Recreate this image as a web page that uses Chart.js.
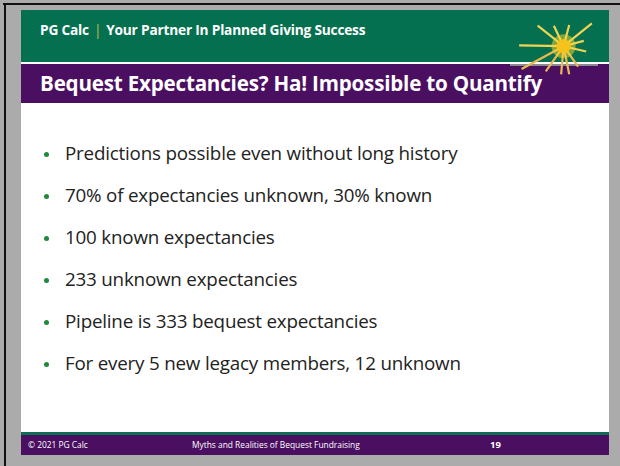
<!DOCTYPE html>
<html>
<head>
<meta charset="utf-8">
<script src="https://cdn.jsdelivr.net/npm/chart.js@4"></script>
<style>
  html, body { margin: 0; padding: 0; }
  body { width: 620px; height: 466px; background: #ababab; position: relative; overflow: hidden; font-family: "Open Sans", "Noto Sans", sans-serif; }
  .frameTop { position: absolute; left: 3px; top: 3px; width: 617px; height: 2px; background: #111; }
  .frameLeft { position: absolute; left: 4px; top: 3px; width: 2px; height: 463px; background: #111; }
  .slide { position: absolute; left: 21px; top: 10px; width: 588px; height: 445px; background: #fff; }
  .header { position: absolute; left: 0; top: 0; width: 588px; height: 52px; background: #05704f; }
  .tagline { position: absolute; left: 19px; top: 10px; color: #fff; font-weight: bold; font-size: 13.7px; letter-spacing: -0.2px; }
  .tagline .sep { color: #c8b94a; font-weight: normal; margin: 0 5px; }
  .titleBar { position: absolute; left: 0; top: 54px; width: 588px; height: 39px; background: #4b0f62; }
  .greyRule { position: absolute; left: 489px; top: 0; width: 88px; height: 2px; background: #8a8a90; }
  .title { position: absolute; left: 19px; top: 5px; color: #fff; font-weight: bold; font-size: 20.6px; letter-spacing: -0.2px; }
  .footLine { position: absolute; left: 0; top: 422px; width: 588px; height: 3px; background: #0b6e55; }
  .footer { position: absolute; left: 0; top: 425px; width: 588px; height: 20px; background: #4b0f62; color: #fff; font-size: 8.4px; }
  .footer span { position: absolute; top: 4px; }
  ul { position: absolute; left: 0; top: 130px; margin: 0; padding: 0; list-style: none; }
  li { position: absolute; left: 44px; white-space: nowrap; font-size: 18.8px; color: #222; letter-spacing: -0.2px; }
  li::before { content: ""; position: absolute; left: -21px; top: 12px; width: 5px; height: 5px; border-radius: 50%; background: #1f8a3c; }
  #starWrap { position: absolute; left: 495px; top: 0; width: 125px; height: 100px; z-index: 10; }
  #star { display: block; width: 125px; height: 100px; }
</style>
</head>
<body>
<div class="frameTop"></div>
<div class="frameLeft"></div>
<div class="slide">
  <div class="header"><div class="tagline">PG Calc<span class="sep">|</span>Your Partner In Planned Giving Success</div></div>
  <div class="titleBar"><div class="greyRule"></div><div class="title">Bequest Expectancies? Ha! Impossible to Quantify</div></div>
  <ul id="bullets"></ul>
  <div class="footLine"></div>
  <div class="footer">
    <span style="left:7px">© 2021 PG Calc</span>
    <span style="left:171px">Myths and Realities of Bequest Fundraising</span>
    <span style="left:469px;font-weight:bold;font-size:9.5px;top:3px">19</span>
  </div>
</div>
<div id="starWrap"><canvas id="star"></canvas></div>
<script>
// Slide bullet text
const bullets = [
  'Predictions possible even without long history',
  '70% of expectancies unknown, 30% known',
  '100 known expectancies',
  '233 unknown expectancies',
  'Pipeline is 333 bequest expectancies',
  'For every 5 new legacy members, 12 unknown'
];

// Starburst rays: end points in the star box, y measured upward (centre at 70,55)
const starCenter = [70, 55];
const rayX = [15, 38, 58, 77, 105, 95, 98, 88, 77, 67, 48, 18];
const rayY = [56, 82, 82, 83, 85, 62, 48, 28, 18, 18, 22, 25];

const list = document.getElementById('bullets');
bullets.forEach((text, i) => {
  const li = document.createElement('li');
  li.textContent = text;
  li.style.top = (i * 42) + 'px';
  list.appendChild(li);
});

// one line per ray, from the centre out to its end point
const rayDatasets = rayX.map((x, i) => ({
  data: [{ x: starCenter[0], y: starCenter[1] }, { x: x, y: rayY[i] }],
  showLine: true,
  clip: false,
  borderColor: rayY[i] < 35 ? '#eab84e' : '#f0d452',
  borderWidth: 2.2,
  pointRadius: 0
}));

new Chart(document.getElementById('star').getContext('2d'), {
  type: 'scatter',
  data: {
    datasets: [
      { data: [{ x: starCenter[0], y: starCenter[1] }], pointRadius: 7, backgroundColor: '#f8c21c', borderWidth: 0 },
      { data: [{ x: starCenter[0], y: starCenter[1] }], pointRadius: 12, backgroundColor: 'rgba(250, 215, 50, 0.5)', borderWidth: 0 },
      ...rayDatasets
    ]
  },
  options: {
    responsive: true,
    maintainAspectRatio: false,
    animation: false,
    layout: { padding: 0 },
    plugins: { legend: { display: false }, tooltip: { enabled: false } },
    scales: {
      x: { type: 'linear', min: 0, max: 125, display: false },
      y: { type: 'linear', min: 0, max: 100, display: false }
    }
  }
});
</script>
</body>
</html>
